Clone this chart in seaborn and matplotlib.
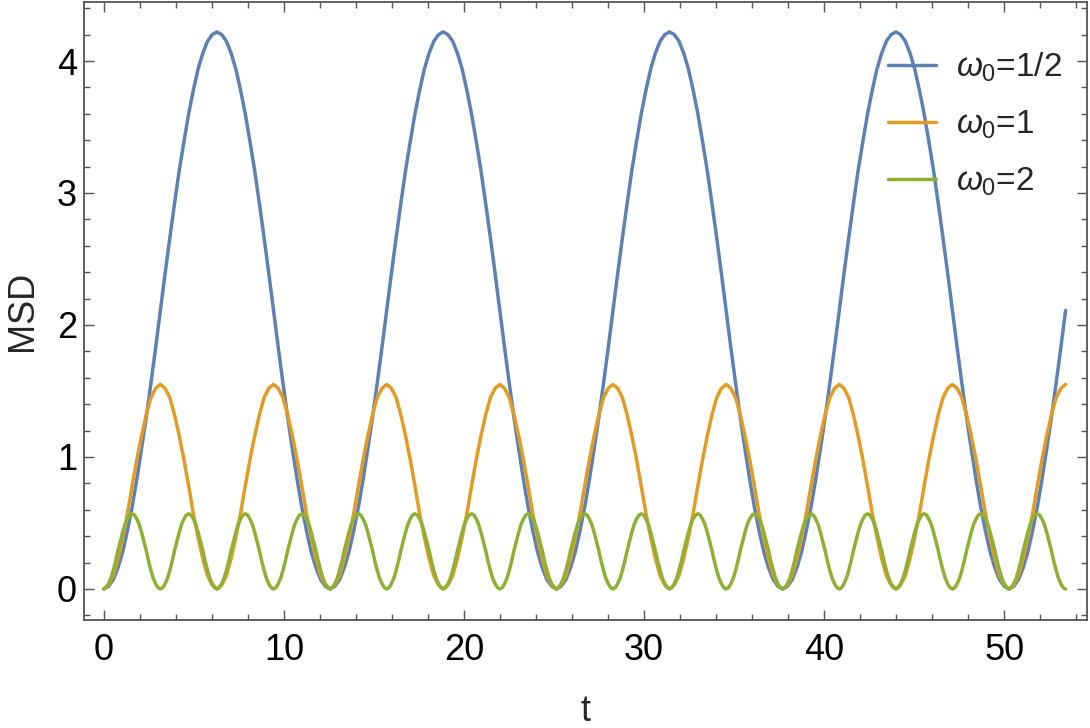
import numpy as np
import pandas as pd
import matplotlib
matplotlib.use('Agg')
import matplotlib.pyplot as plt
import seaborn as sns
from matplotlib.ticker import MultipleLocator

# sample grids along t (0 .. ~17*pi)
t_start = 0.0
t_end = 53.41
n_coarse = 205   # step pi/12, used for omega0 = 1/2 and 1
n_fine = 409     # step pi/24, used for omega0 = 2

labels = [r'$\omega_0$=1/2', r'$\omega_0$=1', r'$\omega_0$=2']
colors = ['#5E81B5', '#E19C24', '#8FB032']

msd_half = [
    0.00, 0.02, 0.07, 0.16, 0.28, 0.44, 0.62, 0.83, 1.06, 1.30, 1.56, 1.83,
    2.11, 2.39, 2.66, 2.92, 3.17, 3.39, 3.60, 3.78, 3.94, 4.06, 4.15, 4.20,
    4.22, 4.20, 4.15, 4.06, 3.94, 3.78, 3.60, 3.39, 3.17, 2.92, 2.66, 2.39,
    2.11, 1.83, 1.56, 1.30, 1.06, 0.83, 0.62, 0.44, 0.28, 0.16, 0.07, 0.02,
    0.00, 0.02, 0.07, 0.16, 0.28, 0.44, 0.62, 0.83, 1.06, 1.30, 1.56, 1.83,
    2.11, 2.39, 2.66, 2.92, 3.17, 3.39, 3.60, 3.78, 3.94, 4.06, 4.15, 4.20,
    4.22, 4.20, 4.15, 4.06, 3.94, 3.78, 3.60, 3.39, 3.17, 2.92, 2.66, 2.39,
    2.11, 1.83, 1.56, 1.30, 1.06, 0.83, 0.62, 0.44, 0.28, 0.16, 0.07, 0.02,
    0.00, 0.02, 0.07, 0.16, 0.28, 0.44, 0.62, 0.83, 1.06, 1.30, 1.56, 1.83,
    2.11, 2.39, 2.66, 2.92, 3.17, 3.39, 3.60, 3.78, 3.94, 4.06, 4.15, 4.20,
    4.22, 4.20, 4.15, 4.06, 3.94, 3.78, 3.60, 3.39, 3.17, 2.92, 2.66, 2.39,
    2.11, 1.83, 1.56, 1.30, 1.06, 0.83, 0.62, 0.44, 0.28, 0.16, 0.07, 0.02,
    0.00, 0.02, 0.07, 0.16, 0.28, 0.44, 0.62, 0.83, 1.06, 1.30, 1.56, 1.83,
    2.11, 2.39, 2.66, 2.92, 3.17, 3.39, 3.60, 3.78, 3.94, 4.06, 4.15, 4.20,
    4.22, 4.20, 4.15, 4.06, 3.94, 3.78, 3.60, 3.39, 3.17, 2.92, 2.66, 2.39,
    2.11, 1.83, 1.56, 1.30, 1.06, 0.83, 0.62, 0.44, 0.28, 0.16, 0.07, 0.02,
    0.00, 0.02, 0.07, 0.16, 0.28, 0.44, 0.62, 0.83, 1.06, 1.30, 1.56, 1.83,
    2.11,
]

msd_one = [
    0.00, 0.03, 0.10, 0.23, 0.39, 0.57, 0.78, 0.98, 1.16, 1.32, 1.45, 1.52,
    1.55, 1.52, 1.45, 1.32, 1.16, 0.98, 0.78, 0.57, 0.39, 0.23, 0.10, 0.03,
    0.00, 0.03, 0.10, 0.23, 0.39, 0.57, 0.78, 0.98, 1.16, 1.32, 1.45, 1.52,
    1.55, 1.52, 1.45, 1.32, 1.16, 0.98, 0.78, 0.57, 0.39, 0.23, 0.10, 0.03,
    0.00, 0.03, 0.10, 0.23, 0.39, 0.57, 0.78, 0.98, 1.16, 1.32, 1.45, 1.52,
    1.55, 1.52, 1.45, 1.32, 1.16, 0.98, 0.78, 0.57, 0.39, 0.23, 0.10, 0.03,
    0.00, 0.03, 0.10, 0.23, 0.39, 0.57, 0.78, 0.98, 1.16, 1.32, 1.45, 1.52,
    1.55, 1.52, 1.45, 1.32, 1.16, 0.98, 0.78, 0.57, 0.39, 0.23, 0.10, 0.03,
    0.00, 0.03, 0.10, 0.23, 0.39, 0.57, 0.78, 0.98, 1.16, 1.32, 1.45, 1.52,
    1.55, 1.52, 1.45, 1.32, 1.16, 0.98, 0.78, 0.57, 0.39, 0.23, 0.10, 0.03,
    0.00, 0.03, 0.10, 0.23, 0.39, 0.57, 0.78, 0.98, 1.16, 1.32, 1.45, 1.52,
    1.55, 1.52, 1.45, 1.32, 1.16, 0.98, 0.78, 0.57, 0.39, 0.23, 0.10, 0.03,
    0.00, 0.03, 0.10, 0.23, 0.39, 0.57, 0.78, 0.98, 1.16, 1.32, 1.45, 1.52,
    1.55, 1.52, 1.45, 1.32, 1.16, 0.98, 0.78, 0.57, 0.39, 0.23, 0.10, 0.03,
    0.00, 0.03, 0.10, 0.23, 0.39, 0.57, 0.78, 0.98, 1.16, 1.32, 1.45, 1.52,
    1.55, 1.52, 1.45, 1.32, 1.16, 0.98, 0.78, 0.57, 0.39, 0.23, 0.10, 0.03,
    0.00, 0.03, 0.10, 0.23, 0.39, 0.57, 0.78, 0.98, 1.16, 1.32, 1.45, 1.52,
    1.55,
]

msd_two = [
    0.00, 0.01, 0.04, 0.08, 0.14, 0.21, 0.29, 0.36, 0.43, 0.49, 0.53, 0.56,
    0.57, 0.56, 0.53, 0.49, 0.43, 0.36, 0.29, 0.21, 0.14, 0.08, 0.04, 0.01,
    0.00, 0.01, 0.04, 0.08, 0.14, 0.21, 0.29, 0.36, 0.43, 0.49, 0.53, 0.56,
    0.57, 0.56, 0.53, 0.49, 0.43, 0.36, 0.29, 0.21, 0.14, 0.08, 0.04, 0.01,
    0.00, 0.01, 0.04, 0.08, 0.14, 0.21, 0.29, 0.36, 0.43, 0.49, 0.53, 0.56,
    0.57, 0.56, 0.53, 0.49, 0.43, 0.36, 0.29, 0.21, 0.14, 0.08, 0.04, 0.01,
    0.00, 0.01, 0.04, 0.08, 0.14, 0.21, 0.29, 0.36, 0.43, 0.49, 0.53, 0.56,
    0.57, 0.56, 0.53, 0.49, 0.43, 0.36, 0.29, 0.21, 0.14, 0.08, 0.04, 0.01,
    0.00, 0.01, 0.04, 0.08, 0.14, 0.21, 0.29, 0.36, 0.43, 0.49, 0.53, 0.56,
    0.57, 0.56, 0.53, 0.49, 0.43, 0.36, 0.29, 0.21, 0.14, 0.08, 0.04, 0.01,
    0.00, 0.01, 0.04, 0.08, 0.14, 0.21, 0.29, 0.36, 0.43, 0.49, 0.53, 0.56,
    0.57, 0.56, 0.53, 0.49, 0.43, 0.36, 0.29, 0.21, 0.14, 0.08, 0.04, 0.01,
    0.00, 0.01, 0.04, 0.08, 0.14, 0.21, 0.29, 0.36, 0.43, 0.49, 0.53, 0.56,
    0.57, 0.56, 0.53, 0.49, 0.43, 0.36, 0.29, 0.21, 0.14, 0.08, 0.04, 0.01,
    0.00, 0.01, 0.04, 0.08, 0.14, 0.21, 0.29, 0.36, 0.43, 0.49, 0.53, 0.56,
    0.57, 0.56, 0.53, 0.49, 0.43, 0.36, 0.29, 0.21, 0.14, 0.08, 0.04, 0.01,
    0.00, 0.01, 0.04, 0.08, 0.14, 0.21, 0.29, 0.36, 0.43, 0.49, 0.53, 0.56,
    0.57, 0.56, 0.53, 0.49, 0.43, 0.36, 0.29, 0.21, 0.14, 0.08, 0.04, 0.01,
    0.00, 0.01, 0.04, 0.08, 0.14, 0.21, 0.29, 0.36, 0.43, 0.49, 0.53, 0.56,
    0.57, 0.56, 0.53, 0.49, 0.43, 0.36, 0.29, 0.21, 0.14, 0.08, 0.04, 0.01,
    0.00, 0.01, 0.04, 0.08, 0.14, 0.21, 0.29, 0.36, 0.43, 0.49, 0.53, 0.56,
    0.57, 0.56, 0.53, 0.49, 0.43, 0.36, 0.29, 0.21, 0.14, 0.08, 0.04, 0.01,
    0.00, 0.01, 0.04, 0.08, 0.14, 0.21, 0.29, 0.36, 0.43, 0.49, 0.53, 0.56,
    0.57, 0.56, 0.53, 0.49, 0.43, 0.36, 0.29, 0.21, 0.14, 0.08, 0.04, 0.01,
    0.00, 0.01, 0.04, 0.08, 0.14, 0.21, 0.29, 0.36, 0.43, 0.49, 0.53, 0.56,
    0.57, 0.56, 0.53, 0.49, 0.43, 0.36, 0.29, 0.21, 0.14, 0.08, 0.04, 0.01,
    0.00, 0.01, 0.04, 0.08, 0.14, 0.21, 0.29, 0.36, 0.43, 0.49, 0.53, 0.56,
    0.57, 0.56, 0.53, 0.49, 0.43, 0.36, 0.29, 0.21, 0.14, 0.08, 0.04, 0.01,
    0.00, 0.01, 0.04, 0.08, 0.14, 0.21, 0.29, 0.36, 0.43, 0.49, 0.53, 0.56,
    0.57, 0.56, 0.53, 0.49, 0.43, 0.36, 0.29, 0.21, 0.14, 0.08, 0.04, 0.01,
    0.00, 0.01, 0.04, 0.08, 0.14, 0.21, 0.29, 0.36, 0.43, 0.49, 0.53, 0.56,
    0.57, 0.56, 0.53, 0.49, 0.43, 0.36, 0.29, 0.21, 0.14, 0.08, 0.04, 0.01,
    0.00, 0.01, 0.04, 0.08, 0.14, 0.21, 0.29, 0.36, 0.43, 0.49, 0.53, 0.56,
    0.57, 0.56, 0.53, 0.49, 0.43, 0.36, 0.29, 0.21, 0.14, 0.08, 0.04, 0.01,
    0.00,
]

t_coarse = np.linspace(t_start, t_end, n_coarse)
t_fine = np.linspace(t_start, t_end, n_fine)
df = pd.concat([
    pd.DataFrame({'t': tt, 'MSD': vals, 'series': lab})
    for tt, vals, lab in zip([t_coarse, t_coarse, t_fine],
                             [msd_half, msd_one, msd_two], labels)
])

sns.set_style('ticks')
plt.rcParams['font.family'] = ['Liberation Sans', 'DejaVu Sans']
plt.rcParams['mathtext.fontset'] = 'custom'
plt.rcParams['mathtext.rm'] = 'Liberation Sans'
plt.rcParams['mathtext.it'] = 'Liberation Sans:italic'

fig = plt.figure(figsize=(10.9, 7.28), dpi=100)
ax = fig.add_axes([84 / 1090, 1 - 620 / 728, (1087 - 84) / 1090, (620 - 2) / 728])

sns.lineplot(data=df, x='t', y='MSD', hue='series', palette=colors,
             estimator=None, sort=False, linewidth=2.5, ax=ax)
for ln in ax.lines:
    ln.set_solid_joinstyle('round')
    ln.set_solid_capstyle('round')

ax.set_xlim(-1.1, 54.6)
ax.set_ylim(-0.235, 4.447)
ax.xaxis.set_major_locator(MultipleLocator(10))
ax.xaxis.set_minor_locator(MultipleLocator(2))
ax.yaxis.set_major_locator(MultipleLocator(1))
ax.yaxis.set_minor_locator(MultipleLocator(0.2))

frame = '#555555'
for s in ax.spines.values():
    s.set_color(frame)
    s.set_linewidth(1.3)
ax.tick_params(which='both', direction='in', top=True, right=True,
               color=frame, width=1.0, labelsize=26, labelcolor='black')
ax.tick_params(which='major', length=7.5)
ax.tick_params(which='minor', length=4.5)
ax.tick_params(axis='x', pad=9)
ax.tick_params(axis='y', pad=5)

ax.set_xlabel('t', fontsize=26, labelpad=19)
ax.set_ylabel('MSD', fontsize=26, labelpad=12)

ax.legend(loc='upper right', bbox_to_anchor=(0.99, 0.953),
          bbox_transform=fig.transFigure, frameon=False, fontsize=24,
          handlelength=1.45, handletextpad=0.6, labelspacing=0.74,
          borderpad=0, title=None)

fig.savefig('out.png', dpi=100)
